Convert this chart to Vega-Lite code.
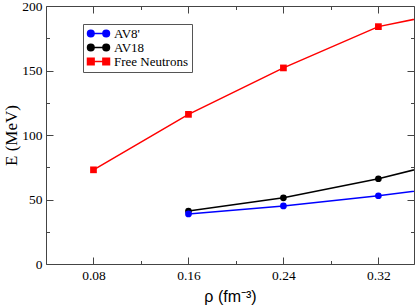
{
  "$schema": "https://vega.github.io/schema/vega-lite/v6.json",
  "width": 368,
  "height": 258,
  "autosize": {"type": "none"},
  "padding": {"left": 46, "top": 6, "right": 1, "bottom": 42},
  "background": "white",
  "config": {
    "view": {"stroke": "#444", "strokeWidth": 1},
    "axis": {
      "grid": false,
      "domain": false,
      "tickColor": "#444",
      "tickWidth": 1,
      "labelFont": "Liberation Serif",
      "labelFontSize": 13.5,
      "labelColor": "black"
    },
    "legend": {
      "labelFont": "Liberation Serif",
      "labelFontSize": 13,
      "labelColor": "black"
    }
  },
  "data": {
    "values": [
      {"rho": 0.08, "E": 73, "series": "Free Neutrons"},
      {"rho": 0.16, "E": 116, "series": "Free Neutrons"},
      {"rho": 0.24, "E": 152, "series": "Free Neutrons"},
      {"rho": 0.32, "E": 184, "series": "Free Neutrons"},
      {"rho": 0.40, "E": 199, "series": "Free Neutrons"},
      {"rho": 0.16, "E": 41, "series": "AV18"},
      {"rho": 0.24, "E": 51.3, "series": "AV18"},
      {"rho": 0.32, "E": 66.1, "series": "AV18"},
      {"rho": 0.40, "E": 84.4, "series": "AV18"},
      {"rho": 0.16, "E": 38.8, "series": "AV8'"},
      {"rho": 0.24, "E": 45, "series": "AV8'"},
      {"rho": 0.32, "E": 52.9, "series": "AV8'"},
      {"rho": 0.40, "E": 62, "series": "AV8'"}
    ]
  },
  "layer": [
    {
      "mark": {"type": "line", "clip": true, "strokeWidth": 1.5},
      "encoding": {
        "x": {
          "field": "rho", "type": "quantitative",
          "scale": {"domain": [0.04, 0.35], "nice": false, "zero": false},
          "axis": {
            "orient": "bottom", "values": [0.08, 0.16, 0.24, 0.32], "format": ".2f",
            "tickSize": -7, "labelPadding": 11,
            "title": "ρ  (fm⁻³)", "titleFont": "Liberation Sans", "titleFontSize": 16,
            "titleFontWeight": "normal", "titleColor": "black", "titlePadding": 7
          }
        },
        "y": {
          "field": "E", "type": "quantitative",
          "scale": {"domain": [0, 200], "nice": false},
          "axis": {
            "orient": "left", "values": [0, 50, 100, 150, 200],
            "tickSize": -7, "labelPadding": 11,
            "title": "E (MeV)", "titleFont": "Liberation Serif", "titleFontSize": 17,
            "titleFontWeight": "normal", "titleColor": "black", "titlePadding": 1
          }
        },
        "color": {
          "field": "series", "type": "nominal",
          "scale": {"domain": ["AV8'", "AV18", "Free Neutrons"], "range": ["#0000ff", "#000000", "#ff0000"]},
          "legend": {
            "title": null, "orient": "none", "legendX": 37, "legendY": 18,
            "fillColor": "white", "strokeColor": "#555", "padding": 3,
            "labelFont": "Liberation Serif", "labelFontSize": 13, "labelColor": "black",
            "symbolSize": 100, "labelOffset": 15, "rowPadding": 0,
            "encode": {
              "labels": {"update": {"font": {"value": "Liberation Serif"}, "fontSize": {"value": 13}, "fill": {"value": "black"}}},
              "symbols": {
                "update": {
                  "shape": {"signal": "datum.value === 'Free Neutrons' ? 'M-1,-0.66 L0.32,-0.66 L0.32,0.66 L-1,0.66 Z M2.08,-0.66 L3.4,-0.66 L3.4,0.66 L2.08,0.66 Z M0.32,0 L2.08,0' : 'M-1,0 A0.66,0.66 0 1,0 0.32,0 A0.66,0.66 0 1,0 -1,0 Z M2.08,0 A0.66,0.66 0 1,0 3.4,0 A0.66,0.66 0 1,0 2.08,0 Z M-0.34,0 L2.74,0'"},
                  "fill": {"signal": "scale('color', datum.value)"},
                  "stroke": {"signal": "scale('color', datum.value)"},
                  "strokeWidth": {"value": 1.5},
                  "opacity": {"value": 1}
                }
              }
            }
          }
        }
      }
    },
    {
      "transform": [{"filter": "datum.series !== 'Free Neutrons'"}],
      "mark": {"type": "point", "shape": "circle", "filled": true, "size": 45, "opacity": 1, "clip": true},
      "encoding": {
        "x": {
          "field": "rho", "type": "quantitative",
          "axis": {"orient": "top", "values": [0.08, 0.16, 0.24, 0.32], "labels": false, "tickSize": -7, "title": null}
        },
        "y": {
          "field": "E", "type": "quantitative",
          "axis": {"orient": "right", "values": [0, 50, 100, 150, 200], "labels": false, "tickSize": -7, "title": null}
        },
        "color": {
          "field": "series", "type": "nominal",
          "legend": {
            "title": null, "orient": "none", "legendX": 37, "legendY": 18,
            "fillColor": "white", "strokeColor": "#555", "padding": 3,
            "labelFont": "Liberation Serif", "labelFontSize": 13, "labelColor": "black",
            "symbolSize": 100, "labelOffset": 15, "rowPadding": 0,
            "encode": {
              "labels": {"update": {"font": {"value": "Liberation Serif"}, "fontSize": {"value": 13}, "fill": {"value": "black"}}},
              "symbols": {
                "update": {
                  "shape": {"signal": "datum.value === 'Free Neutrons' ? 'M-1,-0.66 L0.32,-0.66 L0.32,0.66 L-1,0.66 Z M2.08,-0.66 L3.4,-0.66 L3.4,0.66 L2.08,0.66 Z M0.32,0 L2.08,0' : 'M-1,0 A0.66,0.66 0 1,0 0.32,0 A0.66,0.66 0 1,0 -1,0 Z M2.08,0 A0.66,0.66 0 1,0 3.4,0 A0.66,0.66 0 1,0 2.08,0 Z M-0.34,0 L2.74,0'"},
                  "fill": {"signal": "scale('color', datum.value)"},
                  "stroke": {"signal": "scale('color', datum.value)"},
                  "strokeWidth": {"value": 1.5},
                  "opacity": {"value": 1}
                }
              }
            }
          }
        }
      }
    },
    {
      "transform": [{"filter": "datum.series === 'Free Neutrons'"}],
      "mark": {"type": "point", "shape": "square", "filled": true, "size": 45, "opacity": 1, "clip": true},
      "encoding": {
        "x": {"field": "rho", "type": "quantitative", "axis": null},
        "y": {"field": "E", "type": "quantitative", "axis": null},
        "color": {
          "field": "series", "type": "nominal",
          "legend": {
            "title": null, "orient": "none", "legendX": 37, "legendY": 18,
            "fillColor": "white", "strokeColor": "#555", "padding": 3,
            "labelFont": "Liberation Serif", "labelFontSize": 13, "labelColor": "black",
            "symbolSize": 100, "labelOffset": 15, "rowPadding": 0,
            "encode": {
              "labels": {"update": {"font": {"value": "Liberation Serif"}, "fontSize": {"value": 13}, "fill": {"value": "black"}}},
              "symbols": {
                "update": {
                  "shape": {"signal": "datum.value === 'Free Neutrons' ? 'M-1,-0.66 L0.32,-0.66 L0.32,0.66 L-1,0.66 Z M2.08,-0.66 L3.4,-0.66 L3.4,0.66 L2.08,0.66 Z M0.32,0 L2.08,0' : 'M-1,0 A0.66,0.66 0 1,0 0.32,0 A0.66,0.66 0 1,0 -1,0 Z M2.08,0 A0.66,0.66 0 1,0 3.4,0 A0.66,0.66 0 1,0 2.08,0 Z M-0.34,0 L2.74,0'"},
                  "fill": {"signal": "scale('color', datum.value)"},
                  "stroke": {"signal": "scale('color', datum.value)"},
                  "strokeWidth": {"value": 1.5},
                  "opacity": {"value": 1}
                }
              }
            }
          }
        }
      }
    },
    {
      "mark": {"type": "point", "opacity": 0},
      "encoding": {
        "x": {
          "field": "rho", "type": "quantitative",
          "axis": {"orient": "bottom", "values": [0.12, 0.2, 0.28], "labels": false, "tickSize": -3.5, "title": null}
        },
        "y": {
          "field": "E", "type": "quantitative",
          "axis": {"orient": "left", "values": [25, 75, 125, 175], "labels": false, "tickSize": -3.5, "title": null}
        }
      }
    },
    {
      "mark": {"type": "point", "opacity": 0},
      "encoding": {
        "x": {
          "field": "rho", "type": "quantitative",
          "axis": {"orient": "top", "values": [0.12, 0.2, 0.28], "labels": false, "tickSize": -3.5, "title": null}
        },
        "y": {
          "field": "E", "type": "quantitative",
          "axis": {"orient": "right", "values": [25, 75, 125, 175], "labels": false, "tickSize": -3.5, "title": null}
        }
      }
    }
  ],
  "resolve": {"axis": {"x": "independent", "y": "independent"}}
}
